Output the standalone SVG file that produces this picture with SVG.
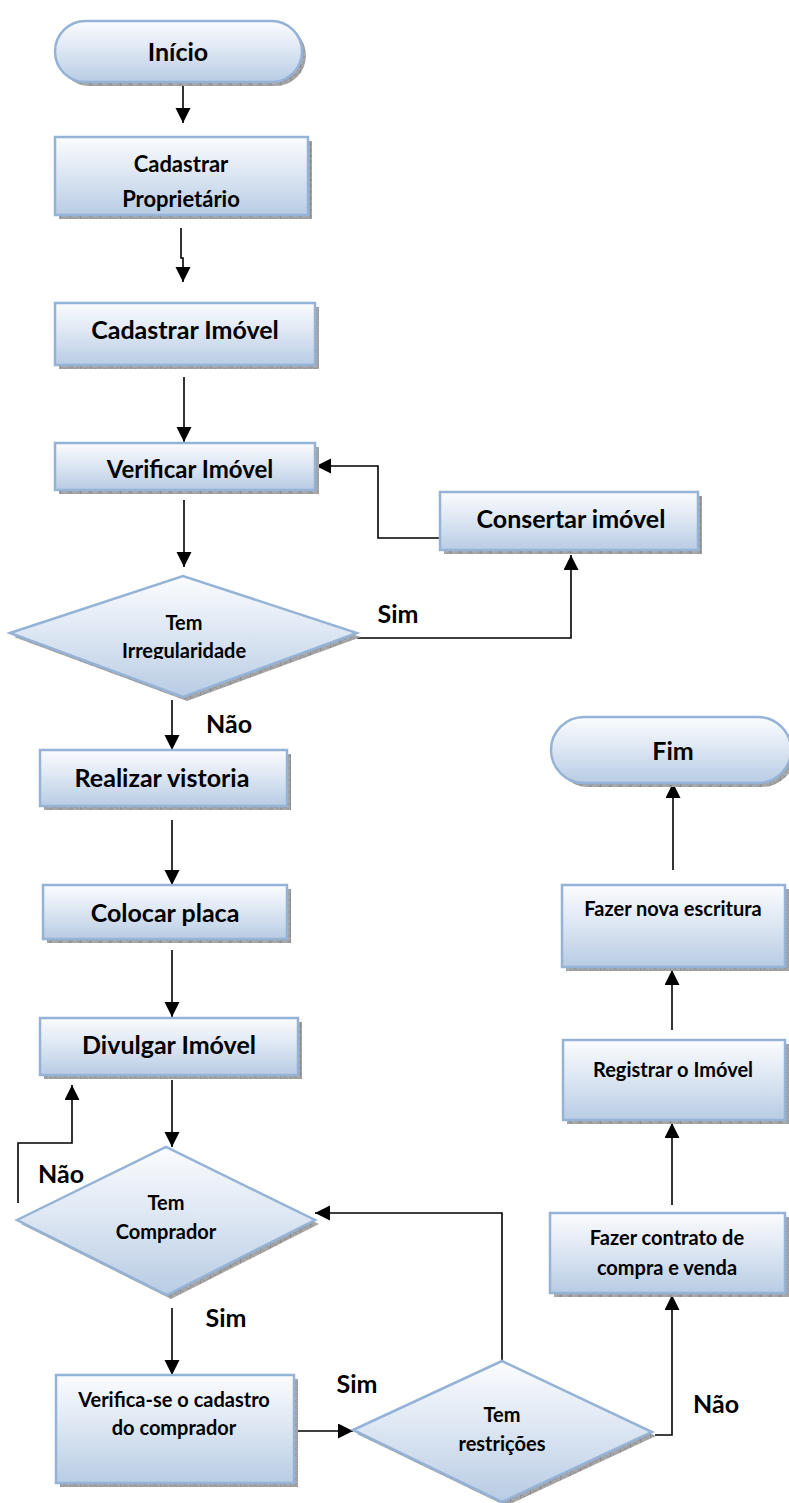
<svg xmlns="http://www.w3.org/2000/svg" width="789" height="1503" viewBox="0 0 789 1503">
  <defs>
    <linearGradient id="fillGrad" x1="0" y1="0" x2="0" y2="1">
      <stop offset="0" stop-color="#fbfcfe"/>
      <stop offset="0.5" stop-color="#dbe5f2"/>
      <stop offset="1" stop-color="#b8cce4"/>
    </linearGradient>
    <pattern id="hatch" width="10" height="6" patternUnits="userSpaceOnUse">
      <rect width="10" height="6" fill="#a8a8a8"/>
      <path d="M0,0 L10,6 M0,6 L10,0" stroke="#8c8c8c" stroke-width="0.6"/>
      <path d="M0,0 V6" stroke="#6f6f6f" stroke-width="0.8"/>
    </pattern>
    <marker id="arrow" markerUnits="userSpaceOnUse" markerWidth="16" markerHeight="16" refX="15" refY="7.5" orient="auto">
      <path d="M0,0 L15,7.5 L0,15 z" fill="#000"/>
    </marker>
    <clipPath id="clipProp"><rect x="55" y="137" width="253" height="78"/></clipPath>
    <clipPath id="clipIrreg"><rect x="10" y="576" width="347" height="83"/></clipPath>
    <style>
      .shape { fill: url(#fillGrad); stroke: #95b3d7; stroke-width: 2.5; }
      .shadow { fill: url(#hatch); }
      .lbl { font-family: Lato, "Liberation Sans", sans-serif; font-weight: 700; fill: #000; text-anchor: middle; }
      .big { font-size: 25px; }
      .mid { font-size: 22px; }
      .mid2 { font-size: 24px; }
      .sml { font-size: 20px; }
      .edge { fill: none; stroke: #000; stroke-width: 1.6; }
      .arr { marker-end: url(#arrow); }
    </style>
  </defs>

  <!-- connectors -->
  <g id="connectors">
    <path class="edge arr" d="M183,82 V123"/>
    <path class="edge arr" d="M181,228 V258 H183 V282"/>
    <path class="edge arr" d="M184,377 V442"/>
    <path class="edge arr" d="M440,538 H378 V466 H316"/>
    <path class="edge arr" d="M184,500 V567"/>
    <path class="edge arr" d="M357,638 H571 V555"/>
    <path class="edge arr" d="M172,700 V750"/>
    <path class="edge arr" d="M172,820 V885"/>
    <path class="edge arr" d="M172,950 V1017"/>
    <path class="edge arr" d="M172,1080 V1147"/>
    <path class="edge arr" d="M18,1203 V1143 H72 V1085"/>
    <path class="edge arr" d="M172,1308 V1375"/>
    <path class="edge arr" d="M298,1431 H353"/>
    <path class="edge arr" d="M502,1360 V1213 H315"/>
    <path class="edge arr" d="M655,1435 H672 V1295"/>
    <path class="edge arr" d="M672,1205 V1123"/>
    <path class="edge arr" d="M672,1030 V970"/>
    <path class="edge arr" d="M673,870 V783"/>
  </g>

  <!-- Início -->
  <g id="inicio">
    <rect class="shadow" x="59" y="25" width="247" height="61" rx="30.5"/>
    <rect class="shape" x="55" y="21" width="247" height="61" rx="30.5"/>
    <text class="lbl big" x="178" y="61">Início</text>
  </g>

  <!-- Cadastrar Proprietário -->
  <g id="cadastrar-proprietario">
    <rect class="shadow" x="59" y="141" width="253" height="78"/>
    <rect class="shape" x="55" y="137" width="253" height="78"/>
    <g clip-path="url(#clipProp)">
      <text class="lbl mid" x="181" y="172">Cadastrar</text>
      <text class="lbl mid" x="181" y="207">Proprietário</text>
    </g>
  </g>

  <!-- Cadastrar Imóvel -->
  <g id="cadastrar-imovel">
    <rect class="shadow" x="59" y="307" width="260" height="62"/>
    <rect class="shape" x="55" y="303" width="260" height="62"/>
    <text class="lbl big" x="185" y="339">Cadastrar Imóvel</text>
  </g>

  <!-- Verificar Imóvel -->
  <g id="verificar-imovel">
    <rect class="shadow" x="59" y="447" width="260" height="47"/>
    <rect class="shape" x="55" y="443" width="260" height="47"/>
    <text class="lbl mid2" x="190" y="478">Verificar Imóvel</text>
  </g>

  <!-- Consertar imóvel -->
  <g id="consertar-imovel">
    <rect class="shadow" x="444" y="496" width="258" height="58"/>
    <rect class="shape" x="440" y="492" width="258" height="58"/>
    <text class="lbl big" x="571" y="528">Consertar imóvel</text>
  </g>

  <!-- Tem Irregularidade -->
  <g id="tem-irregularidade">
    <polygon class="shadow" points="14,637 187,580 361,637 187,701"/>
    <polygon class="shape" points="10,633 183,576 357,633 183,697"/>
    <g clip-path="url(#clipIrreg)">
      <text class="lbl sml" x="184" y="630">Tem</text>
      <text class="lbl sml" x="184" y="658">Irregularidade</text>
    </g>
  </g>

  <!-- Realizar vistoria -->
  <g id="realizar-vistoria">
    <rect class="shadow" x="44" y="754" width="247" height="56"/>
    <rect class="shape" x="40" y="750" width="247" height="56"/>
    <text class="lbl big" x="162" y="787">Realizar vistoria</text>
  </g>

  <!-- Colocar placa -->
  <g id="colocar-placa">
    <rect class="shadow" x="47" y="889" width="244" height="54"/>
    <rect class="shape" x="43" y="885" width="244" height="54"/>
    <text class="lbl big" x="165" y="922">Colocar placa</text>
  </g>

  <!-- Divulgar Imóvel -->
  <g id="divulgar-imovel">
    <rect class="shadow" x="44" y="1022" width="258" height="57"/>
    <rect class="shape" x="40" y="1018" width="258" height="57"/>
    <text class="lbl big" x="169" y="1054">Divulgar Imóvel</text>
  </g>

  <!-- Tem Comprador -->
  <g id="tem-comprador">
    <polygon class="shadow" points="21,1224 170,1151 319,1224 171,1299"/>
    <polygon class="shape" points="17,1220 166,1147 315,1220 167,1295"/>
    <text class="lbl sml" x="166" y="1210">Tem</text>
    <text class="lbl sml" x="166" y="1239">Comprador</text>
  </g>

  <!-- Verifica-se o cadastro do comprador -->
  <g id="verifica-cadastro">
    <rect class="shadow" x="60" y="1379" width="238" height="108"/>
    <rect class="shape" x="56" y="1375" width="238" height="108"/>
    <text class="lbl sml" x="174" y="1407">Verifica-se o cadastro</text>
    <text class="lbl sml" x="174" y="1435">do comprador</text>
  </g>

  <!-- Tem restrições -->
  <g id="tem-restricoes">
    <polygon class="shadow" points="357,1434 506,1365 656,1436 506,1506"/>
    <polygon class="shape" points="353,1430 502,1361 652,1432 502,1502"/>
    <text class="lbl sml" x="502" y="1422">Tem</text>
    <text class="lbl sml" x="502" y="1451">restrições</text>
  </g>

  <!-- Fazer contrato de compra e venda -->
  <g id="fazer-contrato">
    <rect class="shadow" x="554" y="1217" width="235" height="80"/>
    <rect class="shape" x="550" y="1213" width="235" height="80"/>
    <text class="lbl sml" x="667" y="1245">Fazer contrato de</text>
    <text class="lbl sml" x="667" y="1275">compra e venda</text>
  </g>

  <!-- Registrar o Imóvel -->
  <g id="registrar-imovel">
    <rect class="shadow" x="567" y="1044" width="222" height="80"/>
    <rect class="shape" x="563" y="1040" width="222" height="80"/>
    <text class="lbl sml" x="673" y="1077">Registrar o Imóvel</text>
  </g>

  <!-- Fazer nova escritura -->
  <g id="fazer-escritura">
    <rect class="shadow" x="566" y="889" width="223" height="82"/>
    <rect class="shape" x="562" y="885" width="223" height="82"/>
    <text class="lbl sml" x="673" y="916">Fazer nova escritura</text>
  </g>

  <!-- Fim -->
  <g id="fim">
    <rect class="shadow" x="555" y="721" width="240" height="66" rx="33"/>
    <rect class="shape" x="551" y="717" width="240" height="66" rx="33"/>
    <text class="lbl big" x="673" y="760">Fim</text>
  </g>

  <!-- branch labels -->
  <g id="labels">
    <text class="lbl big" x="398" y="623">Sim</text>
    <text class="lbl big" x="229" y="733">Não</text>
    <text class="lbl big" x="61" y="1183">Não</text>
    <text class="lbl big" x="226" y="1327">Sim</text>
    <text class="lbl big" x="357" y="1393">Sim</text>
    <text class="lbl big" x="716" y="1413">Não</text>
  </g>
</svg>
